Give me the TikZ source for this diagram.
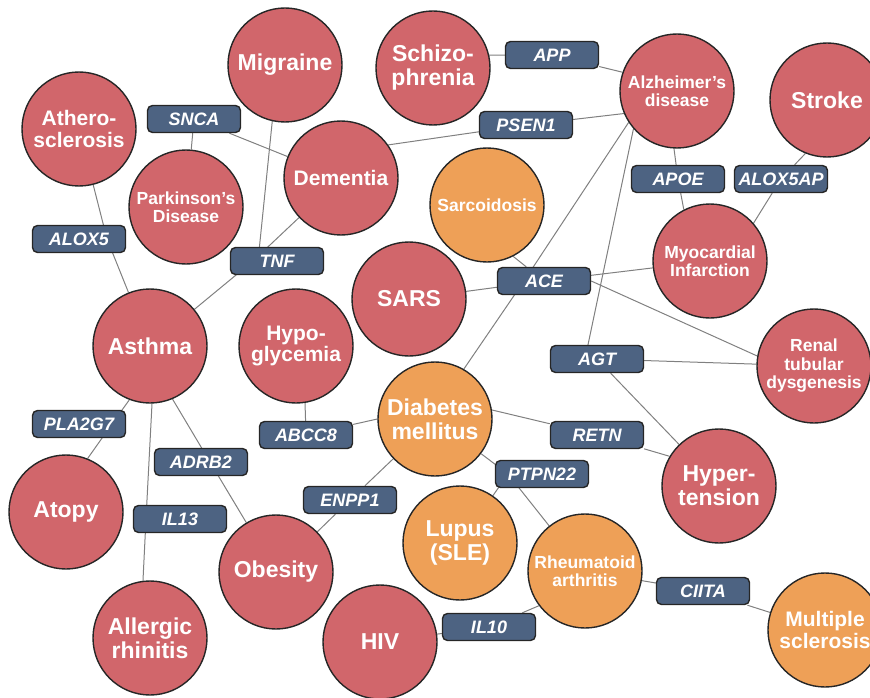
\documentclass[tikz,border=0pt]{standalone}
\usepackage{fontspec}
\setmainfont{Liberation Sans}
\usepackage{tikz}
\usetikzlibrary{backgrounds}

\definecolor{diseasered}{HTML}{D1666B}
\definecolor{immuneorange}{HTML}{EEA057}
\definecolor{genebox}{HTML}{4D6382}
\definecolor{edgegray}{HTML}{808080}
\definecolor{outline}{HTML}{262626}

\begin{document}
\begin{tikzpicture}[
    x=1pt, y=-1pt,
    % Estilos de nodos
    disease/.style={circle, draw=outline, fill=diseasered, line width=1.4pt, minimum size=114pt, inner sep=0pt, text=white, align=center, font=\fontsize{23}{24}\selectfont\bfseries},
    immune/.style={disease, fill=immuneorange},
    midtext/.style={font=\fontsize{21}{21.5}\selectfont\bfseries},
    smalltext/.style={font=\fontsize{17.5}{18.5}\selectfont\bfseries},
    gene/.style={rectangle, rounded corners=5pt, draw=outline, fill=genebox, line width=1.4pt, minimum width=93pt, minimum height=27pt, inner sep=0pt, text=white, font=\fontsize{18}{18}\selectfont\bfseries\itshape},
    link/.style={draw=edgegray, line width=1pt}
]
\useasboundingbox (0,0) rectangle (870,698);

% Enfermedades
\node[disease] (migraine) at (285,65) {Migraine};
\node[disease] (schizo) at (433,68) {Schizo-\\phrenia};
\node[disease, smalltext] (alzheimer) at (677,91) {Alzheimer's\\disease};
\node[disease] (stroke) at (827,100) {Stroke};
\node[disease, midtext] (athero) at (79,129) {Athero-\\sclerosis};
\node[disease, smalltext] (parkinson) at (186,207) {Parkinson's\\Disease};
\node[disease, midtext] (dementia) at (341,178) {Dementia};
\node[immune, smalltext] (sarcoid) at (487,205) {Sarcoidosis};
\node[disease] (sars) at (409,299) {SARS};
\node[disease, smalltext] (myocard) at (710,261) {Myocardial\\Infarction};
\node[disease, smalltext] (renal) at (814,366) {Renal\\tubular\\dysgenesis};
\node[disease] (asthma) at (150,346) {Asthma};
\node[disease, midtext] (hypogly) at (296,346) {Hypo-\\glycemia};
\node[immune] (diabetes) at (435,419) {Diabetes\\mellitus};
\node[disease] (hypertens) at (719,486) {Hyper-\\tension};
\node[disease] (atopy) at (66,512) {Atopy};
\node[disease] (obesity) at (276,572) {Obesity};
\node[disease] (allergic) at (150,638) {Allergic\\rhinitis};
\node[disease] (hiv) at (380,642) {HIV};
\node[immune] (lupus) at (460,543) {Lupus\\(SLE)};
\node[immune, smalltext] (rheuma) at (585,571) {Rheumatoid\\arthritis};
\node[immune, midtext] (ms) at (825,630) {Multiple\\sclerosis};

% Genes
\node[gene] (snca) at (194,119) {SNCA};
\node[gene] (alox5) at (79,239) {ALOX5};
\node[gene] (tnf) at (277,261) {TNF};
\node[gene] (app) at (552,55) {APP};
\node[gene] (psen1) at (526,125) {PSEN1};
\node[gene] (apoe) at (678,179) {APOE};
\node[gene] (alox5ap) at (781,179) {ALOX5AP};
\node[gene] (ace) at (544,281) {ACE};
\node[gene] (agt) at (597,359) {AGT};
\node[gene] (pla2g7) at (79,424) {PLA2G7};
\node[gene] (adrb2) at (201,462) {ADRB2};
\node[gene] (il13) at (180,519) {IL13};
\node[gene] (abcc8) at (306,435) {ABCC8};
\node[gene] (enpp1) at (350,500) {ENPP1};
\node[gene] (retn) at (597,435) {RETN};
\node[gene] (ptpn22) at (542,474) {PTPN22};
\node[gene] (ciita) at (703,591) {CIITA};
\node[gene] (il10) at (489,627) {IL10};

% Conexiones
\begin{scope}[on background layer]
\draw[link] (athero) -- ([xshift=28pt]alox5.center) -- (asthma);
\draw[link] (parkinson) -- (snca) -- (dementia);
\draw[link] ([xshift=-7pt]migraine.center) -- ([xshift=-19pt]tnf.center);
\draw[link] (dementia) -- ([xshift=-24pt]tnf.center) -- (asthma);
\draw[link] (dementia.35) -- (psen1) -- (alzheimer.203);
\draw[link] (schizo.13) -- (app) -- (alzheimer.161);
\draw[link] (alzheimer.267) -- (apoe) -- (myocard.117);
\draw[link] (stroke.248) -- (alox5ap) -- (myocard.41);
\draw[link] (alzheimer.213) -- ([xshift=-20pt]ace.center) -- (diabetes.60);
\draw[link] (alzheimer.221) -- ([xshift=-12pt]agt.center);
\draw[link] (sarcoid.297) -- (ace);
\draw[link] (sars) -- (ace) -- (myocard);
\draw[link] (ace.east) -- (renal.170);
\draw[link] (renal) -- (agt) -- (hypertens);
\draw[link] (hypogly.279) -- (abcc8) -- (diabetes.180);
\draw[link] (diabetes.9) -- (retn) -- (hypertens.149);
\draw[link] (diabetes) -- ([xshift=-34pt]ptpn22.center) -- (lupus);
\draw[link] ([xshift=-34pt]ptpn22.center) -- (rheuma);
\draw[link] (diabetes) -- (enpp1) -- (obesity);
\draw[link] (asthma.249) -- ([xshift=33pt]pla2g7.center) -- (atopy.68);
\draw[link] (asthma.293) -- ([xshift=9pt]adrb2.center) -- (obesity.121);
\draw[link] (asthma.272) -- ([xshift=-34pt]il13.center) -- (allergic.97);
\draw[link] (rheuma.217) -- (il10) -- (hiv);
\draw[link] (rheuma) -- (ciita) -- (ms);
\end{scope}

\end{tikzpicture}
\end{document}
